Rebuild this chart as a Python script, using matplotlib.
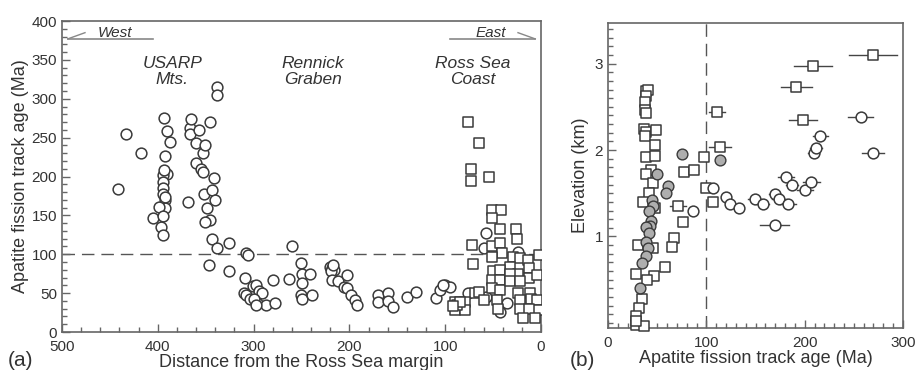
import matplotlib
matplotlib.use("Agg")
import matplotlib.pyplot as plt
from matplotlib.ticker import MultipleLocator, FixedLocator
import numpy as np

plt.rcParams['font.family'] = ['Liberation Sans', 'DejaVu Sans']

# ---------------- Panel (a) data ----------------
a_circ_x = [442, 433, 418, 394, 390, 387, 393, 390, 395, 395, 395, 395, 393, 392, 399, 405, 395, 397, 395, 393, 394,
            369, 366, 365, 366, 360, 357, 353, 351, 360, 355, 353, 346, 352, 349, 346, 341, 343, 340, 351, 343, 338,
            326, 347, 326, 338, 338,
            308, 306, 309, 310, 308, 301, 297, 304, 294, 291, 296, 287, 280, 278, 300, 297,
            260, 251, 263, 249, 241, 249, 251, 250, 239,
            220, 218, 216, 219, 217, 218, 212, 203, 206, 203, 198, 194, 192,
            170, 170, 160, 160, 155, 140, 130, 110, 105, 100, 95, 102,
            57, 60, 43, 36, 57, 76, 24]
a_circ_y = [184, 255, 230, 275, 258, 245, 226, 203, 202, 193, 185, 178, 170, 160, 161, 146, 149, 135, 125, 174, 208,
            167, 262, 274, 255, 243, 260, 230, 240, 217, 210, 206, 270, 178, 159, 144, 198, 183, 170, 142, 120, 108,
            115, 86, 78, 315, 305,
            101, 99, 69, 50, 48, 59, 60, 43, 53, 50, 37, 35, 67, 37, 42, 35,
            111, 89, 68, 75, 75, 63, 48, 43, 48,
            84, 82, 80, 78, 86, 67, 65, 73, 58, 56, 48, 41, 35,
            48, 38, 50, 40, 32, 45, 51, 44, 54, 60, 58, 60,
            127, 108, 26, 37, 45, 50, 103]

a_sq_x = [76, 65, 73, 73, 54, 51.5, 42, 51.5, 43, 26, 25, 72, 71, 51.5, 43, 41, 51.5, 29, 22, 14, 2, 32, 50, 43,
          13, 24, 51.5, 43, 32, 13, 4.5, 51.5, 43, 24, 11.5, 22, 10, 4.5, 46, 45, 22, 3, 13, 18.5, 6, 69, 79, 90,
          90, 79, 65, 60, 32, 22, 88, 85, 92]
a_sq_y = [270, 243, 210, 194, 199, 157, 157, 147, 133, 132, 120, 112, 88, 110, 114, 101, 97, 97, 95, 93, 99, 84,
          78, 80, 82, 75, 67, 67, 75, 69, 73, 56, 54, 50, 50, 41, 43, 41, 41, 30, 30, 28, 30, 18, 18, 50, 39, 39,
          28, 28, 52, 41, 65, 65, 35, 38, 33]

# ---------------- Panel (b) data ----------------
b_sq_x = [38.3, 40.7, 39, 37.3, 37.3, 38.3, 36.6, 39, 48.5, 37.3, 47.5, 39, 47.5, 43.4, 38.3, 45.8, 41.7, 35.6,
          47.5, 71.2, 76.3, 66.8, 65.4, 77.6, 87.5, 97.6, 100, 106.8, 110.8, 113.6, 30.5, 45.8, 28.1, 46.4, 57.6,
          39.7, 35, 31.5, 28.1, 28.1, 36.3, 28.8, 191.5, 208.5, 198.3, 269.5]
b_sq_y = [2.68, 2.70, 2.62, 2.56, 2.46, 2.43, 2.24, 2.21, 2.23, 2.16, 2.06, 1.92, 1.93, 1.77, 1.72, 1.62, 1.50, 1.40,
          1.33, 1.35, 1.17, 0.98, 0.88, 1.74, 1.77, 1.92, 1.56, 1.40, 2.44, 2.03, 0.90, 0.87, 0.56, 0.54, 0.65,
          0.50, 0.27, 0.17, 0.08, -0.02, -0.04, 0.02, 2.73, 2.97, 2.35, 3.10]
b_sq_err = [0, 0, 0, 0, 0, 0, 0, 0, 0, 0, 0, 0, 0, 0, 0, 0, 0, 0,
            0, 8, 0, 0, 0, 0, 4, 0, 0, 0, 8, 11, 0, 0, 0, 0, 0,
            0, 0, 0, 0, 0, 0, 0, 16, 19, 14, 24]

b_gray_x = [75.6, 113.6, 49.8, 61, 59.3, 45, 45.8, 41.7, 44, 42.4, 38.3, 41.7, 39, 40.7, 39, 35, 32.9]
b_gray_y = [1.95, 1.88, 1.72, 1.58, 1.50, 1.42, 1.35, 1.30, 1.18, 1.12, 1.11, 1.04, 0.94, 0.87, 0.77, 0.69, 0.40]

b_circ_x = [86.4, 106.8, 120.3, 124.4, 133.2, 149, 157.6, 169.5, 173.9, 183, 180.7, 187.5, 200, 206.8, 169.5,
            209, 211.2, 216, 257, 269.5]
b_circ_y = [1.29, 1.56, 1.46, 1.38, 1.33, 1.43, 1.38, 1.49, 1.43, 1.38, 1.69, 1.59, 1.54, 1.63, 1.13,
            1.96, 2.02, 2.16, 2.38, 1.96]
b_circ_err = [0, 3, 4, 0, 0, 7, 6, 6, 7, 8, 8, 6, 8, 9, 15, 6, 6, 8, 13, 11]

EC = '#3a3a3a'
SP = '#666666'
TC = '#333333'

fig = plt.figure(figsize=(9.16, 3.70), dpi=100)
axa = fig.add_axes([0.0677, 0.1027, 0.5229, 0.8405])
axb = fig.add_axes([0.6638, 0.1135, 0.3220, 0.8243])

for ax in (axa, axb):
    for s in ax.spines.values():
        s.set_color(SP)
        s.set_linewidth(1.2)
    ax.tick_params(which='both', direction='in', colors=SP, labelcolor=TC, labelsize=11,
                   top=False, right=False)
    ax.tick_params(which='major', length=6, width=1)
    ax.tick_params(which='minor', length=3.5, width=1)
    ax.tick_params(axis='x', which='major', pad=6)

# ---- panel a ----
axa.axhline(100, color='#555555', lw=1.0, dashes=(9, 5), zorder=1)
axa.scatter(a_circ_x, a_circ_y, s=60, facecolors='white', edgecolors=EC, linewidths=1.1, zorder=3)
axa.scatter(a_sq_x, a_sq_y, s=50, marker='s', facecolors='white', edgecolors=EC, linewidths=1.1, zorder=4)
axa.set_xlim(500, 0)
axa.set_ylim(0, 400)
axa.xaxis.set_major_locator(MultipleLocator(100))
axa.xaxis.set_minor_locator(MultipleLocator(20))
axa.yaxis.set_major_locator(MultipleLocator(50))
axa.yaxis.set_minor_locator(MultipleLocator(10))
axa.set_xlabel('Distance from the Ross Sea margin', fontsize=13, color=TC, labelpad=0)
axa.set_ylabel('Apatite fission track age (Ma)', fontsize=13, color=TC, labelpad=2)

# West / East indicators
axa.plot([494, 405], [377, 377], color='#888888', lw=1.2, clip_on=False)
axa.plot([494, 476], [377, 385], color='#888888', lw=1.0)
axa.text(445, 385, 'West', style='italic', fontsize=11, color=TC, ha='center', va='center')
axa.plot([95, 6], [377, 377], color='#888888', lw=1.2)
axa.plot([6, 24], [377, 385], color='#888888', lw=1.0)
axa.text(52, 385, 'East', style='italic', fontsize=11, color=TC, ha='center', va='center')

axa.text(385, 335, 'USARP\nMts.', style='italic', fontsize=12.5, color=TC, ha='center', va='center',
         linespacing=1.05)
axa.text(238, 335, 'Rennick\nGraben', style='italic', fontsize=12.5, color=TC, ha='center', va='center',
         linespacing=1.05)
axa.text(71, 335, 'Ross Sea\nCoast', style='italic', fontsize=12.5, color=TC, ha='center', va='center',
         linespacing=1.05)

# ---- panel b ----
axb.axvline(100, color='#555555', lw=1.0, dashes=(9, 5), zorder=1)
for x, y, e in zip(b_sq_x, b_sq_y, b_sq_err):
    if e > 0:
        axb.plot([x - e, x + e], [y, y], color='#444444', lw=1.0, zorder=2)
for x, y, e in zip(b_circ_x, b_circ_y, b_circ_err):
    if e > 0:
        axb.plot([x - e, x + e], [y, y], color='#444444', lw=1.0, zorder=2)
axb.scatter(b_sq_x, b_sq_y, s=50, marker='s', facecolors='white', edgecolors=EC, linewidths=1.1, zorder=3,
            clip_on=False)
axb.scatter(b_circ_x, b_circ_y, s=60, facecolors='white', edgecolors=EC, linewidths=1.1, zorder=4)
axb.scatter(b_gray_x, b_gray_y, s=60, facecolors='#aeaeae', edgecolors=EC, linewidths=1.0, zorder=5)
axb.set_xlim(0, 300)
axb.set_ylim(-0.06, 3.47)
axb.xaxis.set_major_locator(MultipleLocator(100))
axb.xaxis.set_minor_locator(MultipleLocator(10))
axb.yaxis.set_major_locator(FixedLocator([1, 2, 3]))
axb.yaxis.set_minor_locator(FixedLocator(np.arange(0, 3.45, 0.1)))
axb.set_xlabel('Apatite fission track age (Ma)', fontsize=13, color=TC, labelpad=0)
axb.set_ylabel('Elevation (km)', fontsize=13, color=TC, labelpad=4)

fig.text(0.008, 0.012, '(a)', fontsize=15, color=TC)
fig.text(0.622, 0.012, '(b)', fontsize=15, color=TC)

fig.savefig('out.png', dpi=100)
